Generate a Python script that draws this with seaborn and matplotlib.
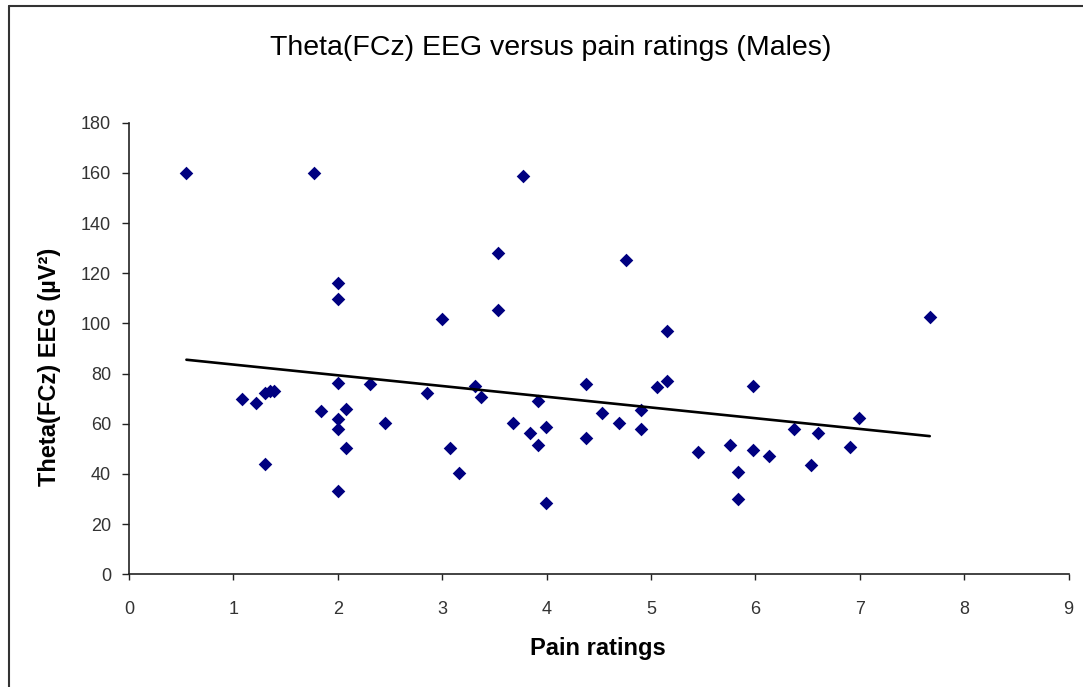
import numpy as np
import pandas as pd
import matplotlib
matplotlib.use("Agg")
import matplotlib.pyplot as plt
from matplotlib.lines import Line2D
import seaborn as sns

# Datos (pain rating, theta FCz)
pain = [0.55, 1.77, 2.00, 2.00, 3.00, 2.00, 2.31, 2.85, 3.77, 3.53,
        4.76, 3.53, 5.15, 3.31, 3.37, 4.38, 5.15, 5.06, 5.98, 7.67,
        1.08, 1.22, 1.30, 1.35, 1.39, 1.30, 1.84, 2.08, 2.00, 2.00,
        2.08, 2.00, 2.45, 3.07, 3.16, 3.68, 3.84, 3.92, 3.99, 3.92,
        3.99, 4.38, 4.53, 4.69, 4.90, 4.90, 5.45, 5.76, 5.83, 5.83,
        5.98, 6.13, 6.37, 6.60, 6.53, 6.91, 6.99]
theta = [160.0, 160.0, 116.0, 109.6, 101.8, 76.4, 75.7, 72.4, 158.7, 128.0,
         125.3, 105.2, 97.1, 75.0, 70.6, 75.7, 77.0, 74.5, 75.0, 102.4,
         69.7, 68.4, 72.4, 73.0, 73.0, 43.8, 65.1, 65.8, 61.8, 57.8,
         50.2, 33.2, 60.2, 50.2, 40.3, 60.2, 56.4, 69.1, 58.8, 51.5,
         28.3, 54.2, 64.4, 60.2, 65.5, 57.8, 48.9, 51.5, 40.9, 30.0,
         49.5, 47.3, 57.8, 56.4, 43.6, 50.9, 62.3]
x_ticks = list(range(0, 10))
y_ticks = list(range(0, 181, 20))

df = pd.DataFrame({"Pain": pain, "Theta": theta})

sns.set_theme(style="white")
plt.rcParams["font.family"] = ["Liberation Sans", "DejaVu Sans"]

W, H = 1083, 687
fig = plt.figure(figsize=(W / 100, H / 100), dpi=100)
ax = fig.add_axes([129 / W, 1 - 574.3 / H, 939.6 / W, 451.6 / H])

sns.regplot(data=df, x="Pain", y="Theta", ax=ax, ci=None, marker="D",
            scatter_kws={"color": "#000080", "s": 48, "alpha": 1, "linewidths": 0},
            line_kws={"color": "black", "linewidth": 1.9})

ax.set_xlim(0, 9)
ax.set_ylim(0, 180)
ax.set_xticks(x_ticks)
ax.set_yticks(y_ticks)
ax.set_xlabel("")
ax.set_ylabel("")

for s in ["top", "right"]:
    ax.spines[s].set_visible(False)
for s in ["left", "bottom"]:
    ax.spines[s].set_color("#222222")
    ax.spines[s].set_linewidth(1.2)

ax.tick_params(axis="x", direction="out", length=4, width=1, color="#222222",
               pad=15, labelsize=13, labelcolor="#333333", bottom=True)
ax.tick_params(axis="y", direction="out", length=5, width=1, color="#222222",
               pad=8, labelsize=13, labelcolor="#333333", left=True)

fig.text(551 / W, 1 - 48 / H, "Theta(FCz) EEG versus pain ratings (Males)",
         ha="center", va="center", fontsize=20.5, color="black")
fig.text(598 / W, 1 - 648 / H, "Pain ratings", ha="center", va="center",
         fontsize=17, fontweight="bold", color="black")
fig.text(50 / W, 1 - 367 / H, "Theta(FCz) EEG (µV²)", ha="center", va="center",
         rotation=90, fontsize=17, fontweight="bold", color="black")

# marco exterior del grafico (solo visible arriba e izquierda)
fig.add_artist(Line2D([9 / W, 9 / W], [0, 1 - 6 / H], color="#333333", linewidth=1.5))
fig.add_artist(Line2D([9 / W, 1], [1 - 6 / H, 1 - 6 / H], color="#333333", linewidth=1.5))

fig.savefig("out.png", dpi=100)
